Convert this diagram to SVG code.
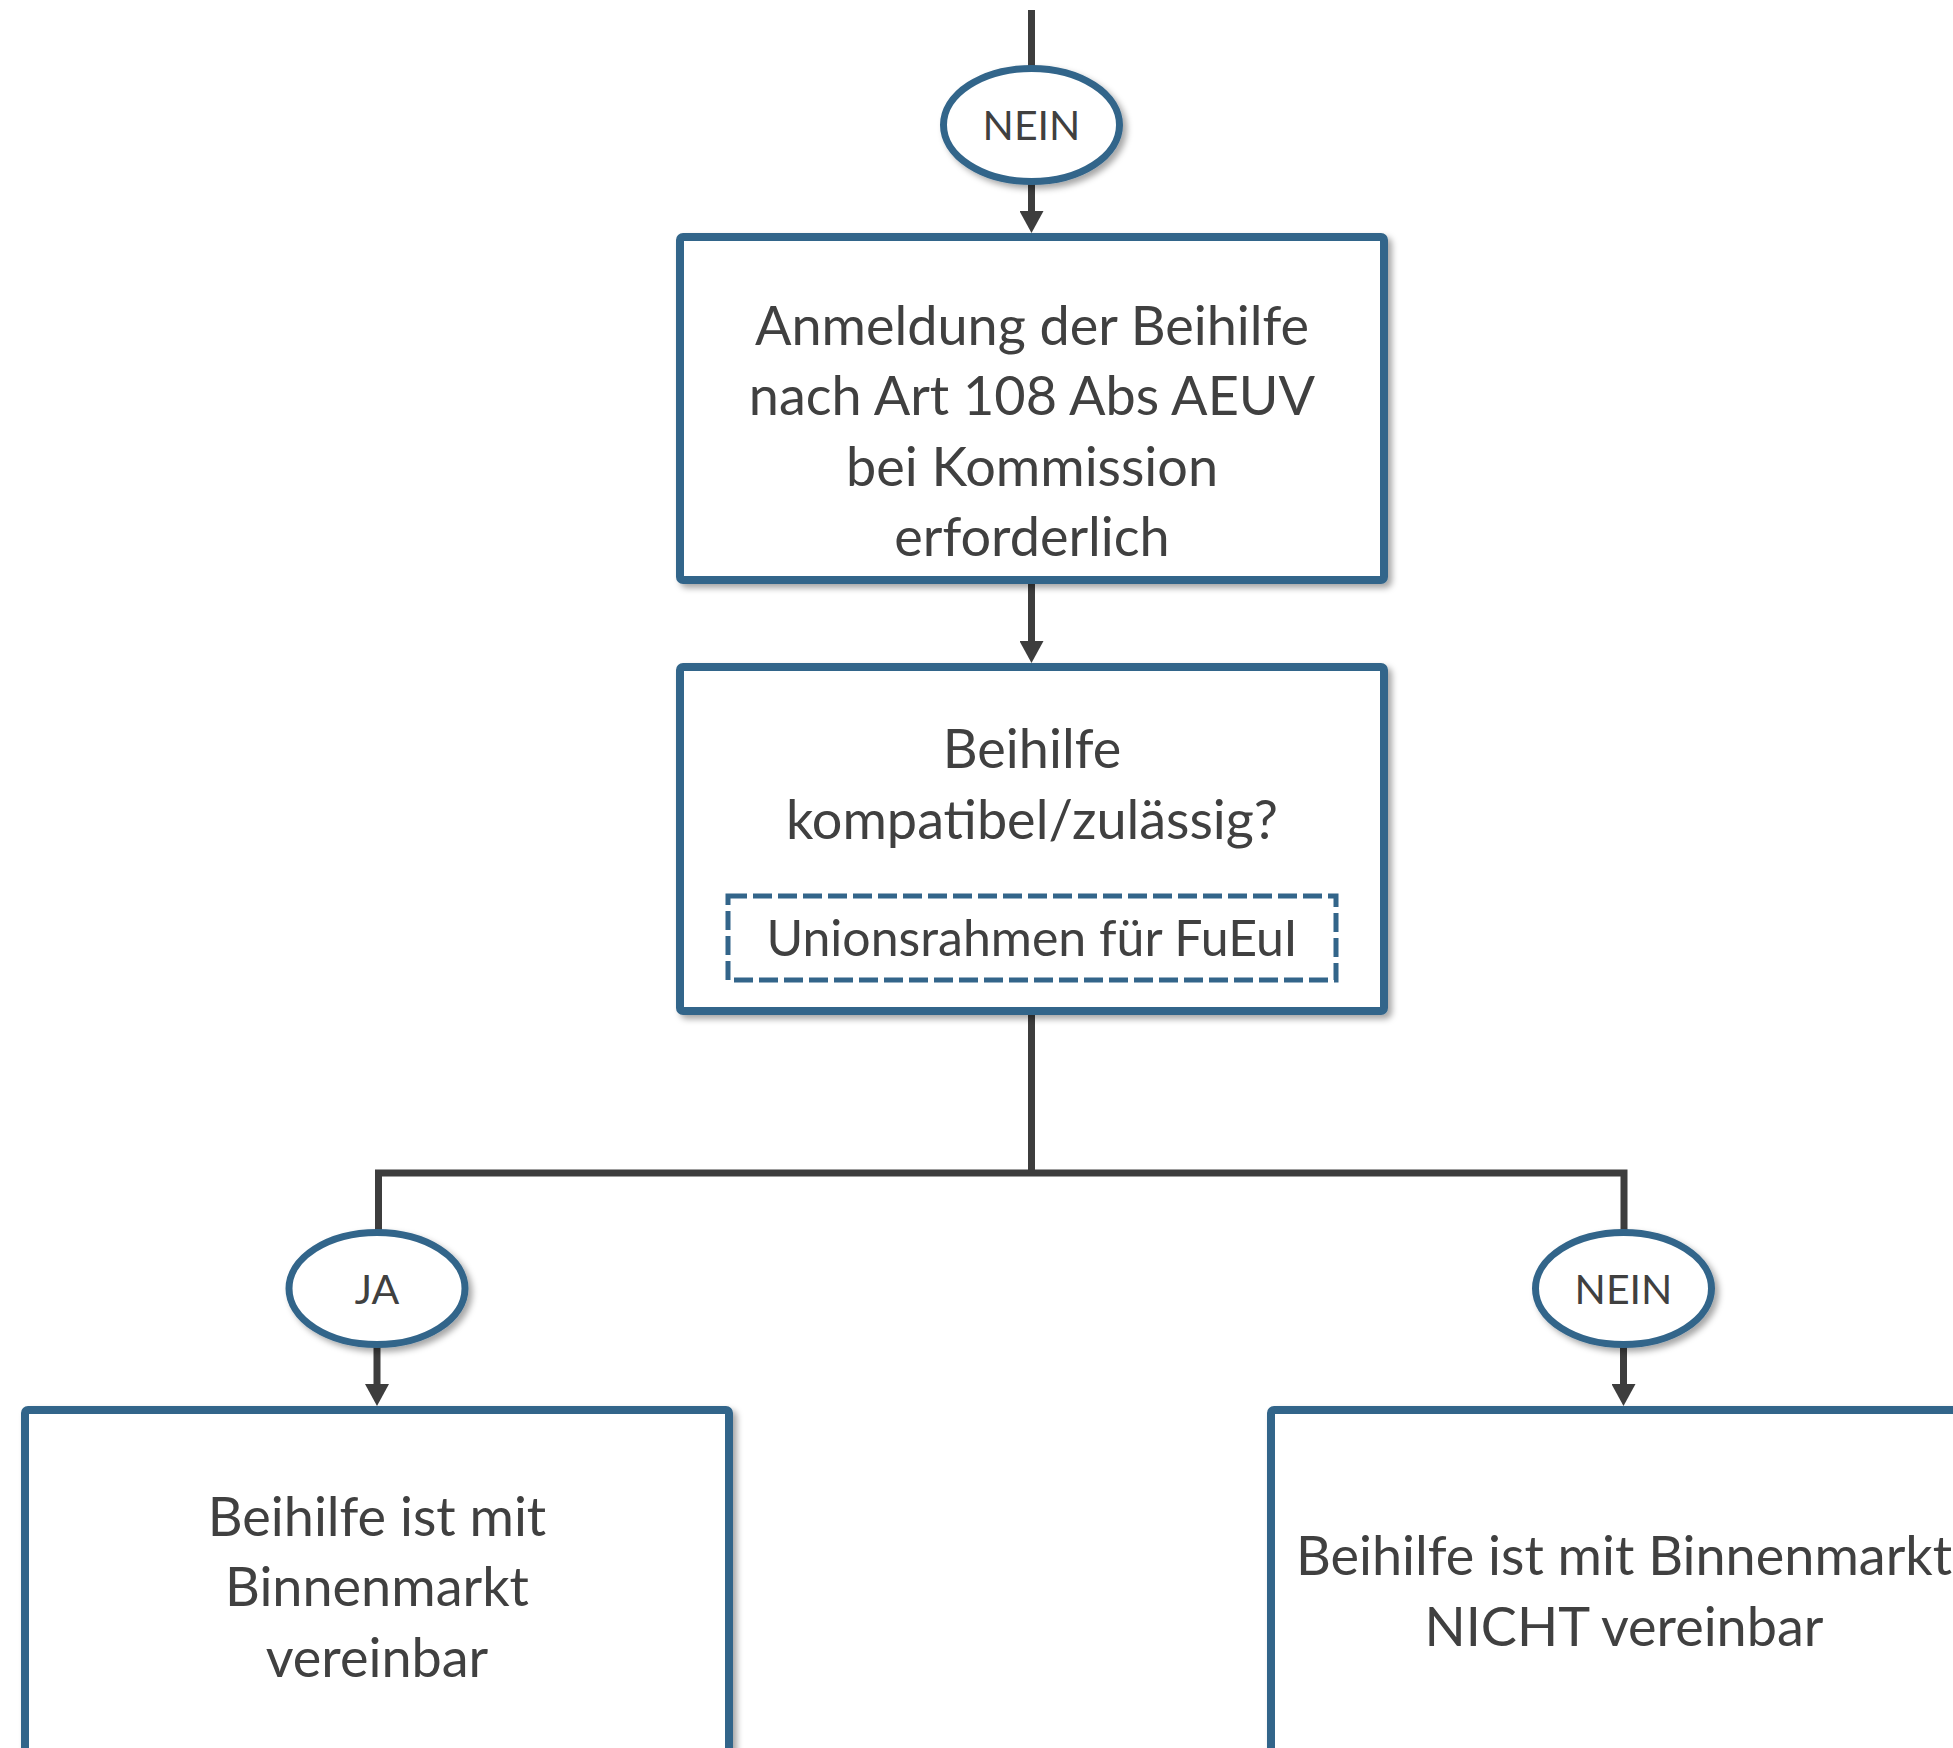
<svg xmlns="http://www.w3.org/2000/svg" width="1953" height="1748" viewBox="0 0 1953 1748">
  <defs>
    <filter id="shadow" x="-10%" y="-10%" width="130%" height="130%">
      <feDropShadow dx="4" dy="4" stdDeviation="3" flood-color="#000" flood-opacity="0.35"/>
    </filter>
    <marker id="arrow" viewBox="0 0 22 24" refX="1" refY="12" markerWidth="22" markerHeight="24" markerUnits="userSpaceOnUse" orient="auto">
      <path d="M0,0 L22,12 L0,24 z" fill="#3d3d3d"/>
    </marker>
  </defs>
  <style>
    .box { fill: #fff; stroke: #33658a; stroke-width: 8; filter: url(#shadow); }
    .oval { fill: #fff; stroke: #33658a; stroke-width: 7; filter: url(#shadow); }
    .dash { fill: none; stroke: #33658a; stroke-width: 5; stroke-dasharray: 19 6; }
    .conn { fill: none; stroke: #3d3d3d; stroke-width: 7; stroke-linejoin: miter; }
    .txt { font-family: Lato, "Open Sans", sans-serif; fill: #404040; text-anchor: middle; font-size: 54px; }
    .lbl { font-family: Lato, "Open Sans", sans-serif; fill: #404040; text-anchor: middle; font-size: 41px; }
    .sub { font-family: Lato, "Open Sans", sans-serif; fill: #404040; text-anchor: middle; font-size: 50px; }
  </style>

  <!-- connectors -->
  <g id="connectors">
    <line class="conn" x1="1031.5" y1="10" x2="1031.5" y2="66"/>
    <line class="conn" x1="1031.5" y1="184" x2="1031.5" y2="212" marker-end="url(#arrow)"/>
    <line class="conn" x1="1031.5" y1="584" x2="1031.5" y2="642" marker-end="url(#arrow)"/>
    <line class="conn" x1="1031.5" y1="1015" x2="1031.5" y2="1173"/>
    <path class="conn" d="M378.5,1230 V1173 H1624 V1230"/>
    <line class="conn" x1="377" y1="1347" x2="377" y2="1385" marker-end="url(#arrow)"/>
    <line class="conn" x1="1623.5" y1="1347" x2="1623.5" y2="1385" marker-end="url(#arrow)"/>
  </g>

  <!-- decision label above the notification box -->
  <g id="nein-top">
    <ellipse class="oval" cx="1031.5" cy="125" rx="88" ry="56.5"/>
    <text class="lbl" x="1031.5" y="140">NEIN</text>
  </g>

  <!-- notification requirement -->
  <g id="anmeldung">
    <rect class="box" x="680" y="237" width="704" height="343" rx="3"/>
    <text class="txt" x="1032" y="345">Anmeldung der Beihilfe</text>
    <text class="txt" x="1032" y="415">nach Art 108 Abs AEUV</text>
    <text class="txt" x="1032" y="486">bei Kommission</text>
    <text class="txt" x="1032" y="556">erforderlich</text>
  </g>

  <!-- compatibility check -->
  <g id="kompatibel">
    <rect class="box" x="680" y="667" width="704" height="344" rx="3"/>
    <text class="txt" x="1032" y="768">Beihilfe</text>
    <text class="txt" x="1032" y="839">kompatibel/zulässig?</text>
    <rect class="dash" x="728" y="896" width="608" height="84"/>
    <text class="sub" x="1032" y="956">Unionsrahmen für FuEuI</text>
  </g>

  <g id="ja">
    <ellipse class="oval" cx="377" cy="1288.5" rx="88" ry="56"/>
    <text class="lbl" x="377" y="1304">JA</text>
  </g>

  <g id="nein-bottom">
    <ellipse class="oval" cx="1623.5" cy="1288.5" rx="88" ry="56"/>
    <text class="lbl" x="1623.5" y="1304">NEIN</text>
  </g>

  <g id="vereinbar">
    <rect class="box" x="25" y="1410" width="704" height="400" rx="3"/>
    <text class="txt" x="377" y="1536">Beihilfe ist mit</text>
    <text class="txt" x="377" y="1606">Binnenmarkt</text>
    <text class="txt" x="377" y="1677">vereinbar</text>
  </g>

  <g id="nicht-vereinbar">
    <rect class="box" x="1271" y="1410" width="704" height="400" rx="3"/>
    <text class="txt" x="1624" y="1575">Beihilfe ist mit Binnenmarkt</text>
    <text class="txt" x="1624" y="1646">NICHT vereinbar</text>
  </g>
</svg>
